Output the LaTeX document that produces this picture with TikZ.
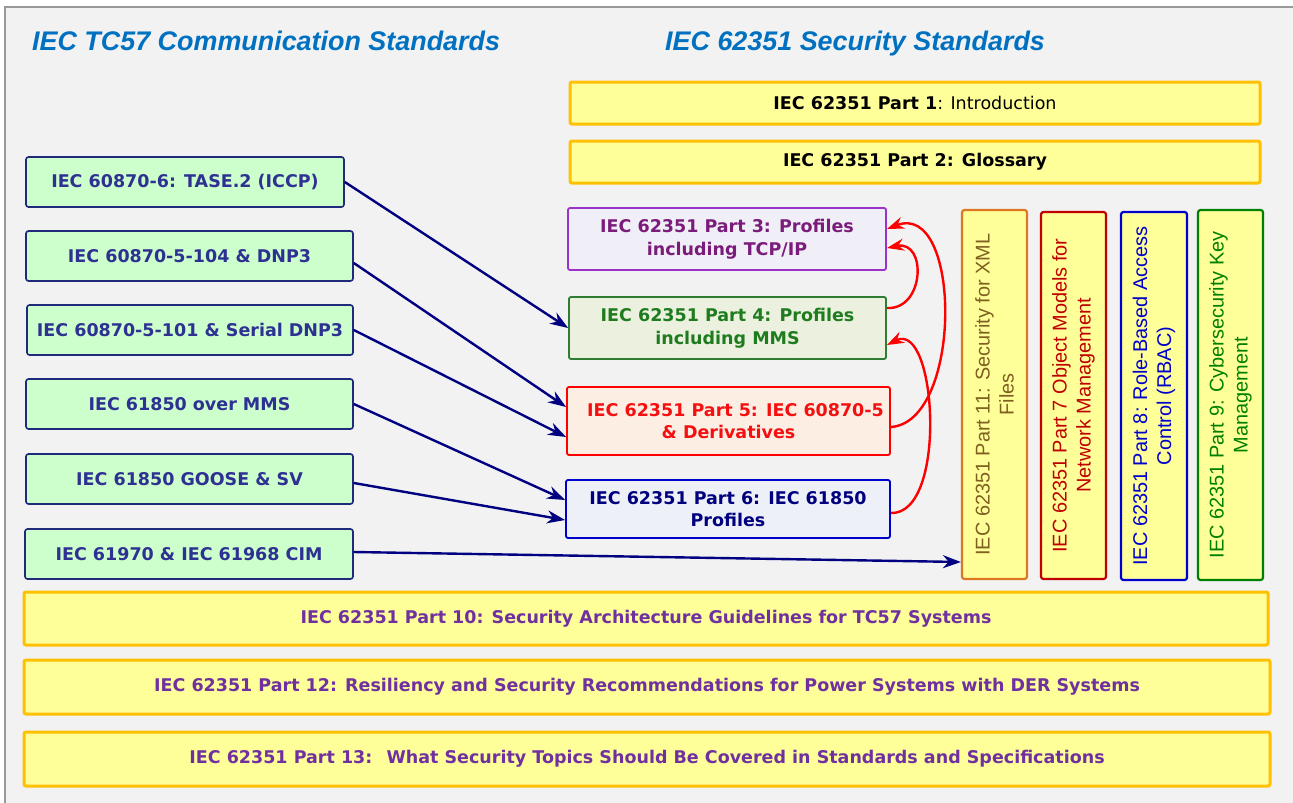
\documentclass[tikz,border=0pt]{standalone}
\usepackage{fontspec}
\setmainfont{Liberation Sans}
\newfontfamily\vfont{DejaVu Sans}
\usetikzlibrary{arrows.meta}
\definecolor{bgc}{HTML}{F2F2F2}
\definecolor{framec}{HTML}{999999}
\definecolor{titlec}{HTML}{0070C0}
\definecolor{greenfill}{HTML}{CCFFCC}
\definecolor{leftborder}{HTML}{1F2A7A}
\definecolor{lefttext}{HTML}{2E3192}
\definecolor{yfill}{HTML}{FFFF99}
\definecolor{yborder}{HTML}{FFC000}
\definecolor{purpletext}{HTML}{7030A0}
\definecolor{pthreeb}{HTML}{9933CC}
\definecolor{pthreef}{HTML}{F0EEF6}
\definecolor{pthreet}{HTML}{7B1C7B}
\definecolor{pfourb}{HTML}{2E7D32}
\definecolor{pfourf}{HTML}{EBF1DE}
\definecolor{pfourt}{HTML}{1E7B1E}
\definecolor{pfiveb}{HTML}{FF0000}
\definecolor{pfivef}{HTML}{FDEEE4}
\definecolor{pfivet}{HTML}{F41010}
\definecolor{psixb}{HTML}{0000CC}
\definecolor{psixf}{HTML}{EEF0F8}
\definecolor{psixt}{HTML}{00007F}
\definecolor{elevenb}{HTML}{DD7722}
\definecolor{elevent}{HTML}{7F6020}
\definecolor{sevenc}{HTML}{C00000}
\definecolor{eightc}{HTML}{0000CC}
\definecolor{ninec}{HTML}{008000}
\definecolor{navyarrow}{HTML}{000080}
\definecolor{redarrow}{HTML}{FF0000}
\begin{document}
\begin{tikzpicture}[x=1pt,y=-1pt,
  title/.style={anchor=base west, inner sep=0pt, text=titlec, font=\fontsize{26.9}{30}\selectfont\bfseries\itshape},
  lbox/.style={draw=leftborder, fill=greenfill, line width=1.6pt, rounded corners=2.5pt, inner sep=0pt,
    text=lefttext, font=\vfont\fontsize{17.5}{21}\selectfont\bfseries, minimum height=50pt},
  ybox/.style={draw=yborder, fill=yfill, line width=3pt, rounded corners=2pt, inner sep=0pt,
    font=\vfont\fontsize{17.5}{21}\selectfont\bfseries},
  pbox/.style={line width=1.8pt, rounded corners=2pt, inner sep=0pt, align=center,
    font=\vfont\fontsize{17.5}{22.5}\selectfont\bfseries},
  vbox/.style={rotate=90, fill=yfill, line width=2.2pt, rounded corners=2.5pt, inner sep=0pt, align=center,
    font=\fontsize{19.9}{24}\selectfont},
  barrow/.style={draw=navyarrow, line width=2.4pt, -{Stealth[length=18pt,width=13pt]}},
  rarrow/.style={draw=redarrow, line width=2.4pt, -{Stealth[length=17pt,width=12pt]}}
]
\useasboundingbox (0,0) rectangle (1293,803);
\fill[white] (0,0) rectangle (1293,803);
\filldraw[fill=bgc, draw=framec, line width=2pt] (5,7) rectangle (1310,820);

% titles
\node[title] (tleft) at (32,50) {IEC TC57 Communication Standards};
\node[title] (tright) at (665,50) {IEC 62351 Security Standards};

% left communication standards
\node[lbox, minimum width=318pt] (c1) at (185,182) {IEC 60870-6: TASE.2 (ICCP)};
\node[lbox, minimum width=327pt] (c2) at (189.5,256) {IEC 60870-5-104 \& DNP3};
\node[lbox, minimum width=326pt] (c3) at (190,330) {IEC 60870-5-101 \& Serial DNP3};
\node[lbox, minimum width=327pt] (c4) at (189.5,404) {IEC 61850 over MMS};
\node[lbox, minimum width=327pt] (c5) at (189.5,479) {IEC 61850 GOOSE \& SV};
\node[lbox, minimum width=328pt] (c6) at (189,554) {IEC 61970 \& IEC 61968 CIM};

% top yellow boxes
\node[ybox, minimum width=690pt, minimum height=42pt] (p1) at (915,103) {IEC 62351 Part 1\mdseries: Introduction};
\node[ybox, minimum width=690pt, minimum height=42pt] (p2) at (915,162) {IEC 62351 Part 2: Glossary};

% profile boxes
\node[pbox, draw=pthreeb, fill=pthreef, text=pthreet, minimum width=318pt, minimum height=62pt] (p3) at (727,239)
  {IEC 62351 Part 3: Profiles\\including TCP/IP};
\node[pbox, draw=pfourb, fill=pfourf, text=pfourt, minimum width=317pt, minimum height=62pt] (p4) at (727.5,328)
  {IEC 62351 Part 4: Profiles\\including MMS};
\node[pbox, draw=pfiveb, fill=pfivef, text=pfivet, minimum width=323pt, minimum height=68pt] (p5) at (728.5,421)
  {\hspace*{14pt}IEC 62351 Part 5: IEC 60870-5\\\& Derivatives};
\node[pbox, draw=psixb, fill=psixf, text=psixt, minimum width=324pt, minimum height=58pt] (p6) at (728,509)
  {IEC 62351 Part 6: IEC 61850\\Profiles};

% vertical boxes
\node[vbox, draw=elevenb, text=elevent, minimum width=369pt, minimum height=65pt] (p11) at (994.5,394.5)
  {IEC 62351 Part 11: Security for XML\\Files};
\node[vbox, draw=sevenc, text=sevenc, minimum width=367pt, minimum height=65pt] (p7) at (1073.5,395.5)
  {IEC 62351 Part 7 Object Models for\\Network Management};
\node[vbox, draw=eightc, text=eightc, minimum width=368pt, minimum height=66pt] (p8) at (1154,396)
  {IEC 62351 Part 8: Role-Based Access\\Control (RBAC)};
\node[vbox, draw=ninec, text=ninec, minimum width=370pt, minimum height=65pt] (p9) at (1230.5,395)
  {IEC 62351 Part 9: Cybersecurity Key\\Management};

% bottom yellow boxes
\node[ybox, text=purpletext, minimum width=1244pt, minimum height=53pt] (p10) at (646,618.5)
  {IEC 62351 Part 10: Security Architecture Guidelines for TC57 Systems};
\node[ybox, text=purpletext, minimum width=1246pt, minimum height=54pt] (p12) at (647,687)
  {IEC 62351 Part 12: Resiliency and Security Recommendations for Power Systems with DER Systems};
\node[ybox, text=purpletext, minimum width=1246pt, minimum height=54pt] (p13) at (647,759)
  {IEC 62351 Part 13: \ What Security Topics Should Be Covered in Standards and Specifications};

% blue connectors
\draw[barrow] (c1.east) -- (p4.west);
\draw[barrow] ([yshift=-7pt]c2.east) -- ([yshift=14pt]p5.west);
\draw[barrow] (c3.east) -- ([yshift=-16pt]p5.west);
\draw[barrow] (c4.east) -- ([yshift=9pt]p6.west);
\draw[barrow] ([yshift=-4pt]c5.east) -- ([yshift=-11pt]p6.west);
\draw[barrow] ([yshift=2pt]c6.east) -- ([yshift=-8pt]c6.east -| p11.north);

% red connectors
\draw[rarrow] ([yshift=-6pt]p5.east) .. controls +(72,-5) and +(75,-29) .. ([yshift=10pt]p3.east);
\draw[rarrow] ([yshift=20pt]p4.east) .. controls +(38,2) and +(40,-8) .. ([yshift=-9pt]p3.east);
\draw[rarrow] ([yshift=-4pt]p6.east) .. controls +(57,2) and +(50,-25) .. ([yshift=-17pt]p4.east);
\end{tikzpicture}
\end{document}
